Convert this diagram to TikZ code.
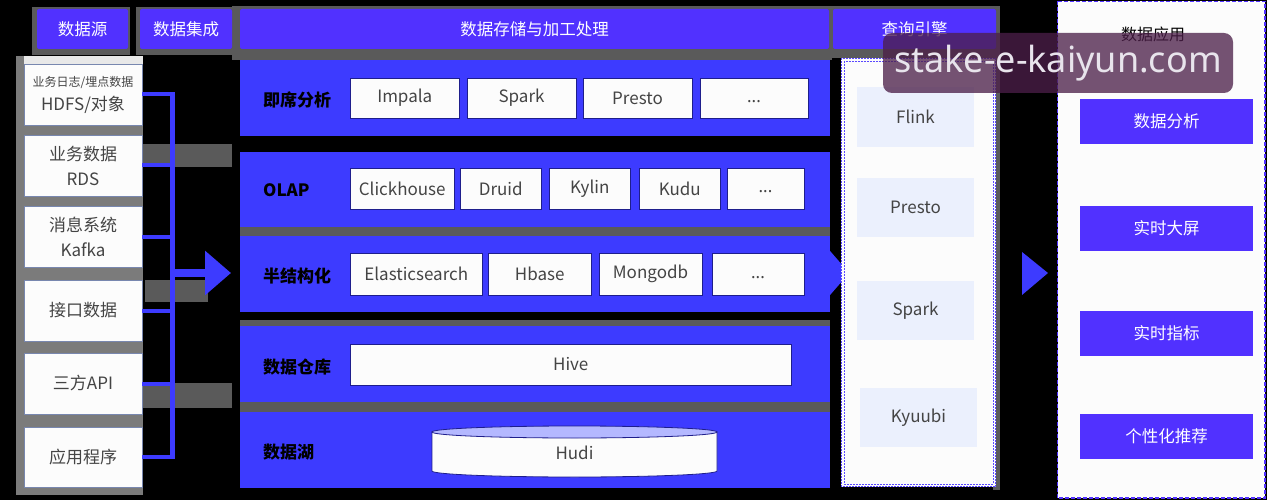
\documentclass[tikz,border=0pt]{standalone}
\usepackage{fontspec}
\setmainfont{Noto Sans CJK SC}
\newfontfamily\wmfont{Noto Sans}
\usetikzlibrary{arrows.meta,calc}
\definecolor{hblue}{HTML}{5131FF}
\definecolor{pblue}{HTML}{3D3BFF}
\definecolor{shadowgray}{HTML}{5A5A5A}
\definecolor{colgray}{HTML}{7B7B7B}
\definecolor{txt}{HTML}{444444}
\definecolor{ebg}{HTML}{EBF0FD}
\definecolor{paper}{HTML}{FCFCFC}
\definecolor{wborder}{HTML}{1E1E8C}
\definecolor{sborder}{HTML}{7887AF}
\definecolor{hudtop}{HTML}{B4B8FF}
\definecolor{dashblue}{HTML}{5A48FF}
\definecolor{wmfill}{RGB}{76,31,73}
\definecolor{wmtext}{RGB}{232,228,236}
\newcommand{\fsz}[1]{\fontsize{#1}{#1}\selectfont}
\newcommand{\dotsx}{{\wmfont\vphantom{Impala}...}}
\begin{document}
\begin{tikzpicture}[x=1pt,y=-1pt,
  hdr/.style={fill=hblue, text=white, rounded corners=2pt, inner sep=0pt, minimum height=40pt, font=\fsz{16.5}},
  panel/.style={fill=pblue, inner sep=0pt, minimum width=590pt, minimum height=76pt},
  plabel/.style={anchor=west, font=\bfseries\fsz{17}, text=black, inner sep=0pt},
  wbox/.style={fill=paper, draw=wborder, line width=0.8pt, text=txt, inner sep=0pt, font=\fsz{17}},
  ebox/.style={fill=ebg, text=txt, inner sep=0pt, minimum width=117pt, minimum height=60pt, font=\fsz{17}},
  abox/.style={fill=hblue, text=white, inner sep=0pt, minimum width=173pt, minimum height=45pt, font=\fsz{16.5}},
  sbox/.style={fill=paper, draw=sborder, line width=0.8pt, text=txt, inner sep=0pt, minimum width=118pt, minimum height=61pt, align=center, font=\fontsize{17}{25}\selectfont},
  conn/.style={draw=pblue, line width=4pt},
  shade/.style={fill=shadowgray},
  wm/.style={fill=wmfill, fill opacity=0.77, text opacity=1, text=wmtext, rounded corners=9pt, minimum width=350pt, minimum height=60pt, inner sep=0pt, font=\wmfont\fsz{36}}
]
% background
\fill[black] (0,0) rectangle (1267,500);
\useasboundingbox (0,0) rectangle (1267,500);

% shadows
\fill[shade] (32,7) rectangle (130,55);
\fill[shade] (136,7) rectangle (232,55);
\fill[shade] (232,6) rectangle (832,60);
\fill[shade] (830,6) rectangle (1000,58);
\fill[shade] (993,58) rectangle (1000,490);
\fill[shade] (240,227) rectangle (830,236);
\fill[shade] (240,320) rectangle (830,412);

% headers
\node[hdr, minimum width=91pt] (h1) at (82.5,29) {数据源};
\node[hdr, minimum width=92pt] (h2) at (186,29) {数据集成};
\node[hdr, minimum width=589pt] (h3) at (534.5,29) {数据存储与加工处理};
\node[hdr, minimum width=163pt] (h4) at (914.5,29) {查询引擎};

% source column
\fill[colgray] (16,56) rectangle (143,495);
\fill[paper!92!black] (24,56) rectangle (143,64);
\node[sbox] (s1) at (83,94.5) {{\fontsize{12}{23}\selectfont 业务日志/埋点数据}\\[-1pt]HDFS/对象};
\node[sbox] (s2) at (83,165.5) {业务数据\\RDS};
\node[sbox] (s3) at (83,236.5) {消息系统\\Kafka};
\node[sbox] (s4) at (83,310.5) {接口数据};
\node[sbox] (s5) at (83,383.5) {三方API};
\node[sbox, minimum height=60pt] (s6) at (83,457) {应用程序};

% gray label artifacts
\fill[shade] (143,144) rectangle (232,167);
\fill[shade] (145,280) rectangle (208,302);
\fill[shade] (143,383) rectangle (232,408);

% connectors
\coordinate (busx) at (172,0);
\foreach \s in {s1,s2,s3,s4,s5,s6}
  \draw[conn] (\s.east) -- (\s.east -| busx);
\draw[draw=pblue, line width=5pt] ($(s1.east -| busx)+(0,-2)$) -- ($(s6.east -| busx)+(0,2)$);
\coordinate (arrA) at (172,273);
\coordinate (arrAtip) at (231,273);
\draw[draw=pblue, fill=pblue, line width=8pt, -{Triangle[length=26pt,width=43pt]}] (arrA) -- (arrAtip);

% storage panels
\node[panel] (p1) at (535,98) {};
\node[panel, minimum height=75pt] (p2) at (535,189.5) {};
\node[panel] (p3) at (535,274) {};
\node[panel] (p4) at (535,364) {};
\node[panel] (p5) at (535,450) {};
\fill[pblue] ($(p3.east)+(-1,-24)$) -- ($(p3.east)+(19,-1)$) -- ($(p3.east)+(-1,22)$) -- cycle;

\node[plabel] (l1) at (263,100) {即席分析};
\node[plabel] (l2) at (263,190) {OLAP};
\node[plabel] (l3) at (263,276) {半结构化};
\node[plabel] (l4) at (263,367) {数据仓库};
\node[plabel] (l5) at (263,452) {数据湖};

% row 1
\node[wbox, minimum width=108.5pt, minimum height=40pt] (b11) at (404.75,98) {Impala};
\node[wbox, minimum width=109pt, minimum height=40pt] (b12) at (521.5,98) {Spark};
\node[wbox, minimum width=109pt, minimum height=40pt] (b13) at (637.5,98) {Presto};
\node[wbox, minimum width=108pt, minimum height=40pt] (b14) at (754,98) {\dotsx};
% row 2
\node[wbox, minimum width=103.5pt, minimum height=41pt] (b21) at (402.25,188.5) {Clickhouse};
\node[wbox, minimum width=80.5pt, minimum height=41pt] (b22) at (500.75,188.5) {Druid};
\node[wbox, minimum width=80.5pt, minimum height=41pt] (b23) at (589.75,188.5) {Kylin};
\node[wbox, minimum width=80.5pt, minimum height=41pt] (b24) at (679.75,188.5) {Kudu};
\node[wbox, minimum width=77pt, minimum height=41pt] (b25) at (765.5,188.5) {\dotsx};
% row 3
\node[wbox, minimum width=131.5pt, minimum height=42pt] (b31) at (416.25,274) {Elasticsearch};
\node[wbox, minimum width=102.5pt, minimum height=42pt] (b32) at (539.75,274) {Hbase};
\node[wbox, minimum width=103pt, minimum height=42pt] (b33) at (650.5,274) {Mongodb};
\node[wbox, minimum width=92pt, minimum height=42pt] (b34) at (758,274) {\dotsx};
% hive
\node[wbox, minimum width=440.5pt, minimum height=41pt] (hive) at (570.75,364.5) {Hive};
% hudi cylinder
\filldraw[fill=paper, draw=wborder, line width=0.8pt] (432,432) -- (432,471) arc[start angle=180, end angle=360, x radius=142.5pt, y radius=6pt] -- (717,432) -- cycle;
\filldraw[fill=hudtop, draw=wborder, line width=0.8pt] (574.5,432) ellipse [x radius=142.5pt, y radius=6pt];
\node[text=txt, font=\fsz{17}, inner sep=0pt] (hudi) at (574.5,453) {Hudi};

% query engine panel
\fill[paper] (841,58) rectangle (996,487);
\draw[dashblue, line width=0.8pt, dash pattern=on 2pt off 1pt] (841.5,58.5) rectangle (995.5,486.5);
\draw[dashblue, line width=0.8pt, dash pattern=on 2pt off 1pt] (844,61) rectangle (993,484);
\coordinate (qpanel) at (996,273);
\node[ebox] (e1) at (915.5,117) {Flink};
\node[ebox, minimum height=59pt] (e2) at (915.5,207.5) {Presto};
\node[ebox, minimum height=59pt] (e3) at (915.5,310.5) {Spark};
\node[ebox, minimum height=59pt] (e4) at (918.5,417.5) {Kyuubi};

% arrow to applications
\fill[pblue] ($(qpanel)+(26,-21)$) -- ($(qpanel)+(52,0)$) -- ($(qpanel)+(26,22)$) -- cycle;

% application panel
\filldraw[fill=paper, draw=hblue, line width=1.5pt, dash pattern=on 4pt off 2pt] (1057.5,1.5) rectangle (1265,498);
\node[text=black, font=\fsz{16}, inner sep=0pt] (apptitle) at (1153,34) {数据应用};
\node[abox] (a1) at (1166.5,121.5) {数据分析};
\node[abox] (a2) at (1166.5,228.5) {实时大屏};
\node[abox] (a3) at (1166.5,333.5) {实时指标};
\node[abox] (a4) at (1166.5,436.5) {个性化推荐};

% watermark
\node[wm] (wmark) at (1058,63) {stake-e-kaiyun.com};
\end{tikzpicture}
\end{document}
